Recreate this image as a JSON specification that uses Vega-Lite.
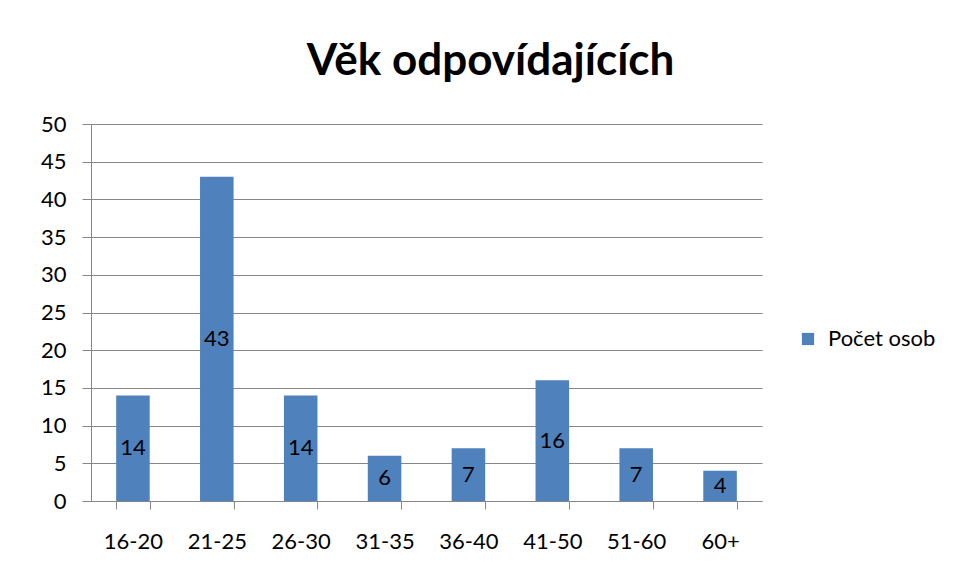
{
  "$schema": "https://vega.github.io/schema/vega-lite/v6.json",
  "autosize": {"type": "none"},
  "width": 671,
  "height": 377,
  "padding": {"left": 91, "top": 124, "right": 198, "bottom": 80},
  "background": "white",
  "data": {"values": [
    {"vek": "16-20", "pocet": 14},
    {"vek": "21-25", "pocet": 43},
    {"vek": "26-30", "pocet": 14},
    {"vek": "31-35", "pocet": 6},
    {"vek": "36-40", "pocet": 7},
    {"vek": "41-50", "pocet": 16},
    {"vek": "51-60", "pocet": 7},
    {"vek": "60+", "pocet": 4}
  ]},
  "transform": [
    {"calculate": "datum.pocet / 2", "as": "mid"},
    {"calculate": "'Počet osob'", "as": "serie"}
  ],
  "title": {
    "text": "Věk odpovídajících",
    "font": "Lato",
    "fontSize": 44,
    "fontWeight": "bold",
    "color": "#000000",
    "anchor": "middle",
    "dx": 64,
    "offset": 29
  },
  "encoding": {
    "x": {
      "field": "vek",
      "type": "nominal",
      "sort": null,
      "scale": {"paddingInner": 0.6, "paddingOuter": 0.3},
      "axis": {
        "title": null,
        "labelAngle": 0,
        "labelFont": "Lato",
        "labelFontSize": 22,
        "labelColor": "#000000",
        "labelPadding": 22,
        "tickSize": 8,
        "tickColor": "#868686",
        "domainColor": "#868686",
        "tickBand": "extent",
        "grid": false
      }
    }
  },
  "layer": [
    {
      "mark": {"type": "bar", "color": "#4F81BD"},
      "encoding": {
        "y": {
          "field": "pocet",
          "type": "quantitative",
          "scale": {"domain": [0, 50]},
          "axis": {
            "title": null,
            "values": [0, 5, 10, 15, 20, 25, 30, 35, 40, 45, 50],
            "labelOverlap": false,
            "labelFont": "Lato",
            "labelFontSize": 22,
            "labelColor": "#000000",
            "labelPadding": 16,
            "tickSize": 9,
            "tickColor": "#868686",
            "domainColor": "#868686",
            "gridColor": "#868686",
            "gridWidth": 1
          }
        },
        "fill": {
          "field": "serie",
          "type": "nominal",
          "scale": {"range": ["#4F81BD"]},
          "legend": {
            "title": null,
            "orient": "none",
            "legendX": 706,
            "legendY": 204,
            "symbolType": "square",
            "symbolSize": 150,
            "labelFont": "Lato",
            "labelFontSize": 22,
            "labelColor": "#000000",
            "labelOffset": 9
          }
        }
      }
    },
    {
      "mark": {"type": "text", "font": "Lato", "fontSize": 22, "color": "#000000", "baseline": "middle"},
      "encoding": {
        "y": {
          "field": "mid",
          "type": "quantitative",
          "axis": {
            "title": null,
            "values": [0, 5, 10, 15, 20, 25, 30, 35, 40, 45, 50],
            "labelOverlap": false,
            "labelFont": "Lato",
            "labelFontSize": 22,
            "labelColor": "#000000",
            "labelPadding": 16,
            "tickSize": 9,
            "tickColor": "#868686",
            "domainColor": "#868686",
            "gridColor": "#868686",
            "gridWidth": 1
          }
        },
        "text": {"field": "pocet", "type": "quantitative"}
      }
    }
  ],
  "config": {"view": {"stroke": null}}
}
